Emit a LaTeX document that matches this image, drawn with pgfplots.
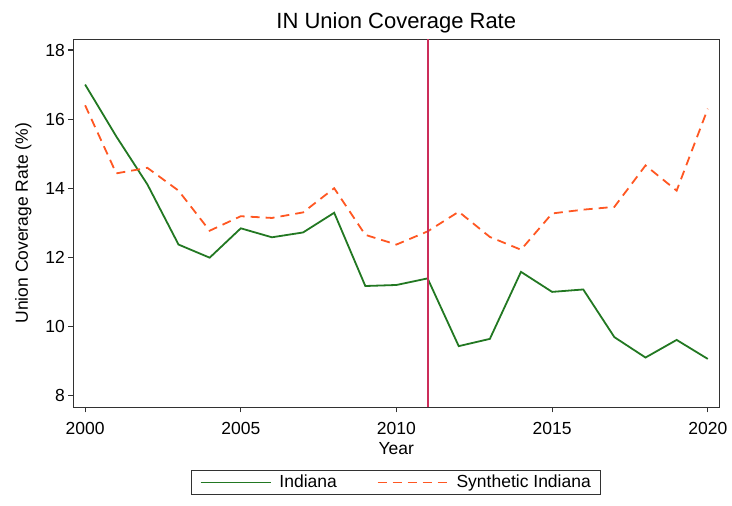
\documentclass[border=0pt]{standalone}
\usepackage{fontspec}
\setmainfont{Liberation Sans}
\usepackage{pgfplots}
\pgfplotsset{compat=1.18}
\definecolor{ingreen}{RGB}{34,120,34}
\definecolor{synorange}{RGB}{255,87,34}
\definecolor{cranberry}{RGB}{204,45,90}
\definecolor{framegray}{RGB}{50,50,50}
\begin{document}
\begin{tikzpicture}
\begin{axis}[
  scale only axis, width=646pt, height=368pt,
  xmin=1999.62, xmax=2020.37, ymin=7.66, ymax=18.31,
  xtick={2000,2005,2010,2015,2020}, ytick={8,10,12,14,16,18},
  /pgf/number format/assume math mode=true,
  x tick label style={/pgf/number format/1000 sep={}, yshift=-6pt},
  tick label style={font=\fontsize{17.5}{20}\selectfont},
  label style={font=\fontsize{17.5}{20}\selectfont},
  title style={font=\fontsize{22}{26}\selectfont, yshift=-3pt},
  title={IN Union Coverage Rate},
  xlabel={Year}, ylabel={Union Coverage Rate (\%)},
  xlabel style={yshift=-1pt},
  ylabel style={yshift=7pt},
  axis line style={framegray, line width=1.2pt},
  tick style={framegray, line width=1.2pt},
  tick align=outside, major tick length=5pt,
  xtick pos=bottom, ytick pos=left,
  legend columns=2,
  legend style={at={(0.5,-0.17)}, anchor=north, draw=framegray, line width=0.8pt,
    font=\fontsize{17.5}{20}\selectfont, inner xsep=8pt, inner ysep=3pt,
    /tikz/every even column/.append style={column sep=38pt}},
  legend image code/.code={\draw[#1, line width=1.6pt] (0pt,0pt) -- (70pt,0pt); \path (76pt,0pt);},
]
\addplot[ingreen, line width=1.8pt] coordinates {
(2000,17.00) (2001,15.50) (2002,14.11) (2003,12.37) (2004,11.99)
(2005,12.84) (2006,12.58) (2007,12.72) (2008,13.29) (2009,11.17)
(2010,11.20) (2011,11.39) (2012,9.43) (2013,9.64) (2014,11.58)
(2015,11.00) (2016,11.07) (2017,9.69) (2018,9.10) (2019,9.61) (2020,9.06)};
\addlegendentry{Indiana}
\addplot[synorange, line width=1.8pt, dash pattern=on 9pt off 6pt] coordinates {
(2000,16.40) (2001,14.43) (2002,14.59) (2003,13.93) (2004,12.77)
(2005,13.19) (2006,13.14) (2007,13.30) (2008,14.00) (2009,12.65)
(2010,12.37) (2011,12.75) (2012,13.32) (2013,12.59) (2014,12.22)
(2015,13.27) (2016,13.38) (2017,13.46) (2018,14.66) (2019,13.93) (2020,16.30)};
\addlegendentry{Synthetic Indiana}
\addplot[draw=cranberry, line width=2pt, mark=none, forget plot] table {
x y
2011 7.66
2011 18.31
};
\end{axis}
\path[use as bounding box] (-73.3pt,-98.7pt) rectangle (658.7pt,407.3pt);
\end{tikzpicture}
\end{document}
